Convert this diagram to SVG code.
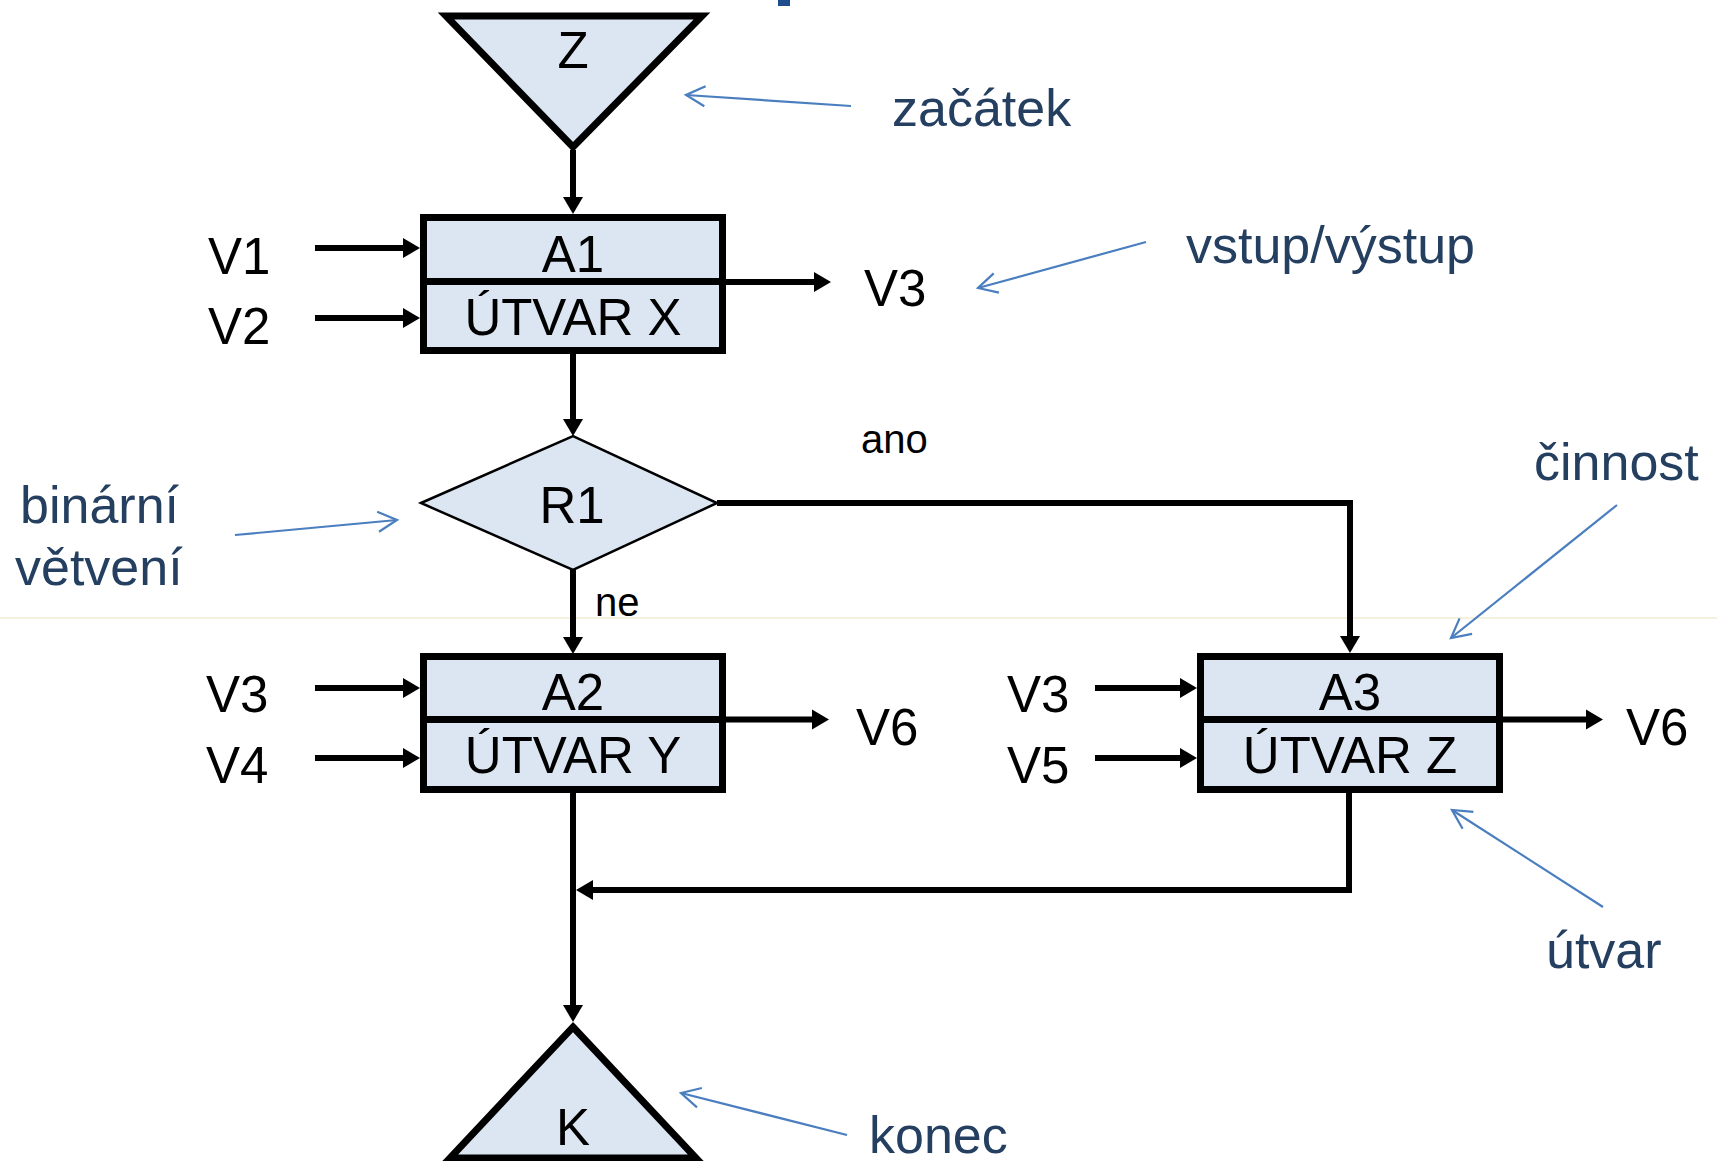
<svg xmlns="http://www.w3.org/2000/svg" width="1717" height="1161" viewBox="0 0 1717 1161">
<style>
.shape{fill:#DCE6F2;stroke:#000;stroke-width:7;stroke-linejoin:miter}
.dia{fill:#DCE6F2;stroke:#000;stroke-width:2.5}
.t{font-family:"Liberation Sans",Arial,sans-serif;font-size:51px;fill:#000}
.c{text-anchor:middle}
.sm{font-family:"Liberation Sans",Arial,sans-serif;font-size:40px;fill:#000}
.lbl{font-family:"Liberation Sans",Arial,sans-serif;font-size:52px;fill:#243F60}
.con{fill:none;stroke:#000;stroke-width:6}
.ann{fill:none;stroke:#4A7EBF;stroke-width:2.2}
</style>
<defs>
<marker id="ah" markerUnits="userSpaceOnUse" markerWidth="18" markerHeight="20" refX="0" refY="10" orient="auto" overflow="visible">
<path d="M0,0 L17,10 L0,20 z" fill="#000"/>
</marker>
<marker id="oa" markerUnits="userSpaceOnUse" markerWidth="20" markerHeight="24" refX="0" refY="0" orient="auto" overflow="visible">
<path d="M-19,-10 L0,0 L-19,10" fill="none" stroke="#4A7EBF" stroke-width="2.2"/>
</marker>
</defs>
<rect width="1717" height="1161" fill="#fff"/>
<line x1="0" y1="618" x2="1717" y2="618" stroke="#EDE3C0" stroke-width="1.2"/>
<rect x="778" y="0" width="12" height="6" fill="#1F4E8F"/>

<g id="connectors">
<line class="con" x1="573" y1="150" x2="573" y2="197" marker-end="url(#ah)"/>
<line class="con" x1="315" y1="248" x2="403" y2="248" marker-end="url(#ah)"/>
<line class="con" x1="315" y1="318" x2="403" y2="318" marker-end="url(#ah)"/>
<line class="con" x1="726" y1="282" x2="814" y2="282" marker-end="url(#ah)"/>
<line class="con" x1="573" y1="354" x2="573" y2="419" marker-end="url(#ah)"/>
<path class="con" d="M717,503 H1350 V636" marker-end="url(#ah)"/>
<line class="con" x1="573" y1="570" x2="573" y2="637" marker-end="url(#ah)"/>
<line class="con" x1="315" y1="688" x2="403" y2="688" marker-end="url(#ah)"/>
<line class="con" x1="315" y1="758" x2="403" y2="758" marker-end="url(#ah)"/>
<line class="con" x1="726" y1="719.5" x2="812" y2="719.5" marker-end="url(#ah)"/>
<line class="con" x1="1095" y1="688" x2="1180" y2="688" marker-end="url(#ah)"/>
<line class="con" x1="1095" y1="758" x2="1180" y2="758" marker-end="url(#ah)"/>
<line class="con" x1="1503" y1="719.5" x2="1586" y2="719.5" marker-end="url(#ah)"/>
<path class="con" d="M1349,793 V890 H593" marker-end="url(#ah)"/>
<line class="con" x1="573" y1="793" x2="573" y2="1005" marker-end="url(#ah)"/>
</g>

<g id="Z">
<path class="shape" d="M446,16 H702 L573,147 Z"/>
<text class="t c" x="573" y="68">Z</text>
</g>

<g id="A1">
<rect class="shape" x="423.5" y="217.5" width="299" height="133"/>
<line x1="423.5" y1="281.5" x2="722.5" y2="281.5" stroke="#000" stroke-width="7"/>
<text class="t c" x="573" y="272">A1</text>
<text class="t c" x="573" y="335">ÚTVAR X</text>
</g>

<g id="R1">
<path class="dia" d="M421,503 L573,436 L717,503 L573,570 Z"/>
<text class="t c" x="572" y="523">R1</text>
</g>

<g id="A2">
<rect class="shape" x="423.5" y="656.5" width="299" height="133"/>
<line x1="423.5" y1="719.5" x2="722.5" y2="719.5" stroke="#000" stroke-width="7"/>
<text class="t c" x="573" y="710">A2</text>
<text class="t c" x="573" y="773">ÚTVAR Y</text>
</g>

<g id="A3">
<rect class="shape" x="1200.5" y="656.5" width="299" height="133"/>
<line x1="1200.5" y1="719.5" x2="1499.5" y2="719.5" stroke="#000" stroke-width="7"/>
<text class="t c" x="1350" y="710">A3</text>
<text class="t c" x="1350" y="773">ÚTVAR Z</text>
</g>

<g id="K">
<path class="shape" d="M573,1027 L696,1158 H450 Z"/>
<text class="t c" x="573" y="1145">K</text>
</g>

<g id="io-labels">
<text class="t" x="208" y="274">V1</text>
<text class="t" x="208" y="344">V2</text>
<text class="t" x="864" y="306">V3</text>
<text class="t" x="206" y="712">V3</text>
<text class="t" x="206" y="783">V4</text>
<text class="t" x="856" y="745">V6</text>
<text class="t" x="1007" y="712">V3</text>
<text class="t" x="1007" y="783">V5</text>
<text class="t" x="1626" y="745">V6</text>
<text class="sm" x="861" y="453">ano</text>
<text class="sm" x="595" y="616">ne</text>
</g>

<g id="annotations">
<text class="lbl" x="892" y="126">začátek</text>
<line class="ann" x1="851" y1="106" x2="686" y2="95" marker-end="url(#oa)"/>
<text class="lbl" x="1186" y="263">vstup/výstup</text>
<line class="ann" x1="1146" y1="242" x2="978" y2="288" marker-end="url(#oa)"/>
<text class="lbl" x="20" y="523">binární</text>
<text class="lbl" x="15" y="585">větvení</text>
<line class="ann" x1="235" y1="535" x2="397" y2="520" marker-end="url(#oa)"/>
<text class="lbl" x="1534" y="480">činnost</text>
<line class="ann" x1="1617" y1="505" x2="1451" y2="638" marker-end="url(#oa)"/>
<text class="lbl" x="1546" y="968">útvar</text>
<line class="ann" x1="1603" y1="907" x2="1452" y2="810" marker-end="url(#oa)"/>
<text class="lbl" x="869" y="1153">konec</text>
<line class="ann" x1="847" y1="1135" x2="681" y2="1093" marker-end="url(#oa)"/>
</g>
</svg>
